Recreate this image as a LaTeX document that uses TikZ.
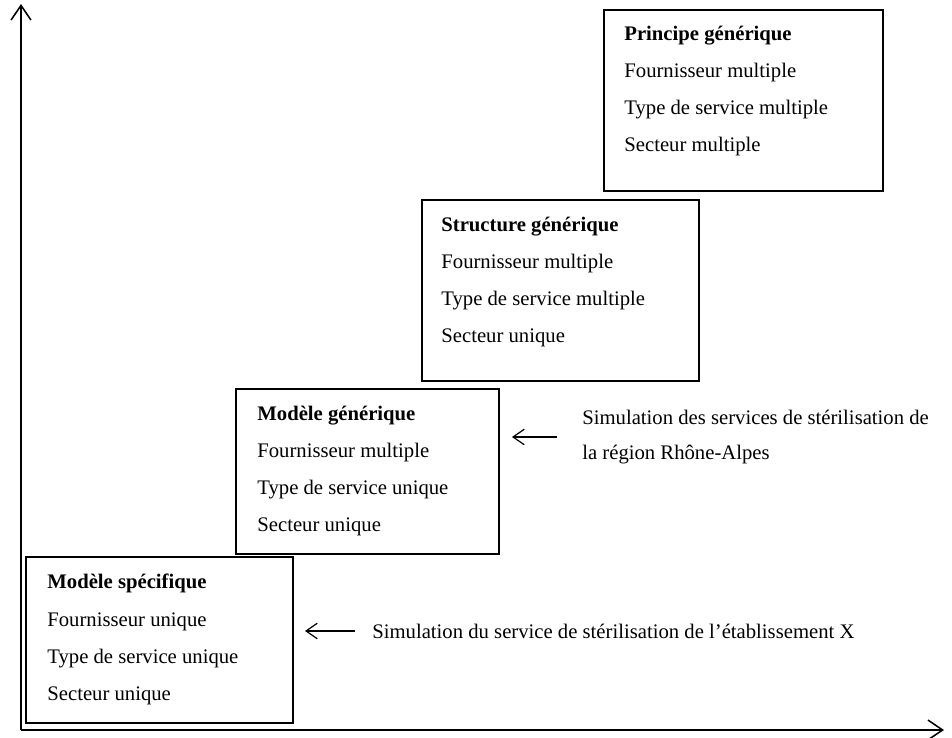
\documentclass[tikz,border=0pt]{standalone}
\usepackage{fontspec}
\setmainfont{Liberation Serif}
\usepackage{tikz}
\usetikzlibrary{arrows.meta}
\usetikzlibrary{fit}
\tikzset{
	cadre/.style={draw,line width=1.1pt,inner sep=0pt},
	contenu/.style={anchor=north west,inner sep=0pt,align=left,font=\fontsize{12}{21.5}\selectfont},
	legende/.style={anchor=west,inner sep=0pt,align=left,font=\fontsize{12}{20.3}\selectfont},
	renvoi/.style={-{Straight Barb[length=6.5pt,width=9pt]},line width=0.7pt}
}

\begin{document}
\begin{tikzpicture}[x=0.58pt,y=0.58pt,>={Straight Barb[length=8.5pt,width=11.5pt]}]
	\useasboundingbox (0,0) rectangle (952,738);
	% axes
	\coordinate (origine) at (21,8);
	\coordinate (haut) at (21,734);
	\coordinate (droite) at (944,8);
	\draw[->,line width=0.9pt] (origine) -- (haut);
	\draw[->,line width=0.9pt] (origine) -- (droite);
	% les quatre niveaux
	\node[cadre,fit={(26,15) (293,181)}] (specifique) {};
	\node[contenu] (specifiqueT) at ([shift={(22,-18)}]specifique.north west)
		{\textbf{Modèle spécifique}\\Fournisseur unique\\Type de service unique\\Secteur unique};
	\node[cadre,fit={(236,184) (499,349)}] (modele) {};
	\node[contenu] (modeleT) at ([shift={(22,-18)}]modele.north west)
		{\textbf{Modèle générique}\\Fournisseur multiple\\Type de service unique\\Secteur unique};
	\node[cadre,fit={(422,357) (699,538)}] (structure) {};
	\node[contenu] (structureT) at ([shift={(20,-18)}]structure.north west)
		{\textbf{Structure générique}\\Fournisseur multiple\\Type de service multiple\\Secteur unique};
	\node[cadre,fit={(604,547) (883,728)}] (principe) {};
	\node[contenu] (principeT) at ([shift={(21,-17)}]principe.north west)
		{\textbf{Principe générique}\\Fournisseur multiple\\Type de service multiple\\Secteur multiple};
	% simulations
	\node[legende] (simuX) at (372,107) {Simulation du service de stérilisation de l’établissement X};
	\coordinate (simuXa) at (355,107);
	\coordinate (simuXb) at (305,107);
	\draw[renvoi] (simuXa) -- (simuXb);
	\node[legende] (simuRA) at (582,301) {Simulation des services de stérilisation de\\la région Rhône-Alpes};
	\coordinate (simuRAa) at (557,301);
	\coordinate (simuRAb) at (512,301);
	\draw[renvoi] (simuRAa) -- (simuRAb);
\end{tikzpicture}
\end{document}
